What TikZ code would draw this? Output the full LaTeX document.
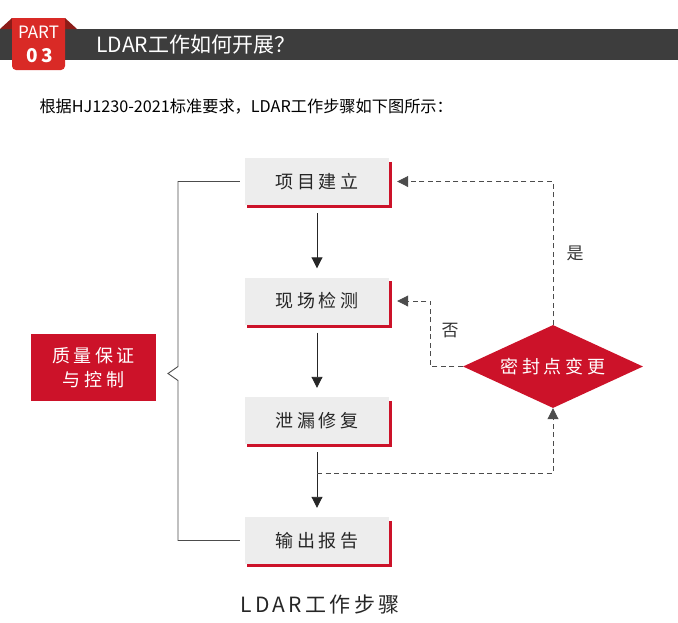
\documentclass[tikz,border=0pt]{standalone}
\usepackage{fontspec}
\setmainfont{Noto Sans CJK SC}
\newfontfamily\cjkwide{Noto Sans CJK SC}[LetterSpace=20]
\newfontfamily\cjkwider{Noto Sans CJK SC}[LetterSpace=16]
\usetikzlibrary{arrows.meta,calc,shapes.geometric}
\definecolor{barGray}{HTML}{3D3D3D}
\definecolor{badgeRed}{HTML}{D92A26}
\definecolor{foldRed}{HTML}{8C1C18}
\definecolor{mainRed}{HTML}{CC1229}
\definecolor{boxGray}{HTML}{EDEDED}
\tikzset{
	stepbox/.style={fill=boxGray, minimum width=144pt, minimum height=47pt, inner sep=0pt, text=black!85, font=\cjkwide\fontsize{18}{20}\selectfont},
	flowline/.style={draw=black!85, line width=0.9pt, -{Triangle[width=11pt,length=11pt]}, shorten <=8pt, shorten >=9pt},
	backline/.style={draw=black!70, line width=0.9pt, dash pattern=on 5pt off 3.5pt, -{Triangle[width=11pt,length=11pt]}},
	shadowline/.style={draw=mainRed, line width=3pt},
}

\begin{document}
\begin{tikzpicture}[x=1pt, y=-1pt]
		%%%%% START %%%%%
		\useasboundingbox (0,0) rectangle (678,622);
		
		% header bar
		\fill[barGray] (0,29) rectangle (678,60);
		\fill[foldRed] (0,29) -- (12,18) -- (12,29) -- cycle;
		\fill[foldRed] (65,18) -- (77,29) -- (65,29) -- cycle;
		\fill[badgeRed, rounded corners=4pt] (12,18) rectangle (65,70);
		\fill[badgeRed] (12,18) rectangle (65,40);
		\node[text=white, font=\fontsize{17}{17}\selectfont] (part) at (38.5,32.5) {PART};
		\node[text=white, font=\cjkwide\bfseries\fontsize{19}{19}\selectfont] (num) at (40,56) {03};
		\node[anchor=west, text=white, font=\fontsize{21}{21}\selectfont] (title) at (93,44.5) {LDAR工作如何开展？};
		\node[anchor=west, font=\fontsize{16.2}{16}\selectfont] (intro) at (36,107) {根据HJ1230-2021标准要求，LDAR工作步骤如下图所示：};
		
		% steps
		\node[stepbox] (s1) at (317,181.5) {项目建立};
		\node[stepbox] (s2) at (317,301) {现场检测};
		\node[stepbox] (s3) at (317,420.5) {泄漏修复};
		\node[stepbox] (s4) at (317,540.5) {输出报告};
		\foreach \s in {s1,s2,s3,s4}
			\draw[shadowline] ($(\s.north east)+(1.5,4)$) -- ($(\s.south east)+(1.5,1.5)$) -- ($(\s.south west)+(2,1.5)$);
		
		\node[diamond, fill=mainRed, minimum width=180pt, minimum height=83pt, aspect=2.17, inner sep=0pt, text=white, font=\cjkwide\fontsize{18}{20}\selectfont] (change) at (553,366.5) {密封点变更};
		\node[fill=mainRed, minimum width=125pt, minimum height=67pt, align=center, text=white, font=\cjkwide\fontsize{18}{24}\selectfont] (qa) at (93.5,367.5) {质量保证\\与控制};
		
		% bracket
		\coordinate (notch) at (168,373.5);
		\draw[draw=black!70, line width=0.9pt, shorten <=5pt, shorten >=5pt] (s1.west) -| ($(notch)+(10,-7)$) -- (notch) -- ($(notch)+(10,7)$) |- (s4.west);
		
		% arrows
		\draw[flowline] (s1) -- (s2);
		\draw[flowline] (s2) -- (s3);
		\draw[flowline] (s3) -- (s4);
		\draw[backline] (change.north) |- ($(s1.east)+(8,0)$);
		\draw[backline] (change.west) -- ++(-32,0) |- ($(s2.east)+(8,0)$);
		\coordinate (fork) at ($(s3.south)+(0,29)$);
		\draw[backline] (fork) -| (change.south);
		\node[text=black!80, font=\fontsize{17}{17}\selectfont] (yes) at (575,253) {是};
		\node[text=black!80, font=\fontsize{17}{17}\selectfont] (no) at (450,331) {否};
		
		\node[text=black!85, font=\cjkwider\fontsize{21}{21}\selectfont] (caption) at (320,605) {LDAR工作步骤};
		%%%%% END %%%%%
\end{tikzpicture}
\end{document}
